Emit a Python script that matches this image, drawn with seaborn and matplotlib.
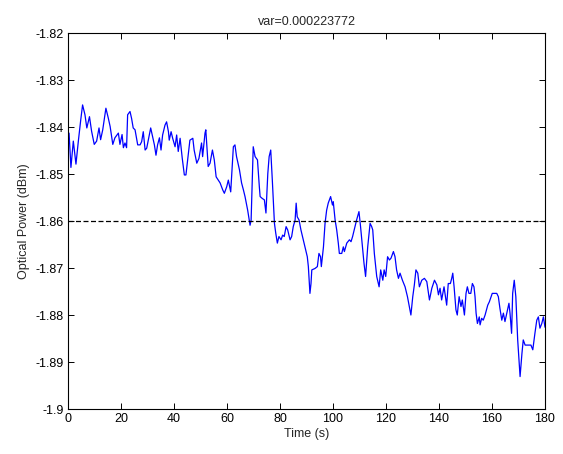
import numpy as np
import pandas as pd
import seaborn as sns
import matplotlib
matplotlib.use("Agg")
import matplotlib.pyplot as plt
from matplotlib.ticker import FormatStrFormatter, FuncFormatter

# values (time in s, power in dBm)
time_s = [
    0.0, 0.4, 1.1, 2.0, 3.0, 3.9, 4.8, 5.5, 6.4, 7.1, 8.1, 8.9, 9.9, 10.8,
    11.7, 12.3, 13.1, 14.3, 15.2, 15.9, 16.9, 17.7, 19.0, 19.6, 20.4, 20.9,
    21.5, 22.1, 22.5, 23.4, 24.0, 24.6, 25.3, 26.3, 27.2, 27.8, 28.4, 29.1,
    29.7, 30.3, 31.2, 31.8, 32.6, 33.2, 33.8, 34.5, 35.1, 35.7, 36.6, 37.2,
    37.9, 38.2, 38.9, 39.5, 40.4, 41.0, 41.6, 42.3, 43.1, 43.9, 44.5, 45.2,
    46.0, 47.1, 47.6, 48.6, 49.4, 50.4, 50.8, 51.7, 52.0, 52.9, 53.6, 54.5,
    55.2, 55.9, 56.7, 57.4, 58.4, 59.0, 59.9, 60.5, 61.4, 62.4, 63.0, 63.6,
    64.7, 65.5, 66.2, 66.8, 67.8, 68.7, 69.1, 69.9, 70.6, 71.5, 72.2, 72.5,
    73.3, 74.1, 74.7, 75.4, 75.9, 76.5, 77.1, 77.9, 78.4, 79.0, 79.6, 80.4,
    81.0, 81.6, 82.3, 82.9, 83.8, 84.4, 85.0, 85.7, 86.1, 86.5, 87.2, 87.9,
    88.8, 89.7, 90.3, 90.7, 91.3, 91.7, 92.0, 93.2, 94.1, 94.7, 95.3, 95.6,
    96.4, 97.0, 97.6, 98.2, 99.1, 99.8, 100.1, 100.8, 101.4, 102.0, 102.4,
    103.3, 103.9, 104.3, 105.2, 106.2, 106.8, 107.4, 108.3, 108.9, 109.8,
    110.4, 111.1, 111.7, 112.3, 113.1, 114.0, 114.6, 115.0, 115.6, 116.5,
    117.4, 118.0, 118.8, 119.3, 119.9, 120.6, 121.3, 121.9, 122.8, 123.4,
    124.0, 124.7, 125.3, 126.2, 127.2, 128.1, 128.8, 129.4, 130.1, 130.7,
    131.3, 132.0, 132.6, 133.5, 134.5, 135.4, 136.4, 137.3, 138.3, 139.2,
    139.8, 140.4, 141.0, 141.9, 142.9, 143.5, 144.3, 144.8, 145.2, 145.7,
    146.4, 146.9, 147.6, 148.3, 148.8, 149.6, 150.2, 150.7, 151.3, 152.0,
    152.6, 153.2, 153.6, 154.0, 154.5, 155.2, 155.5, 156.1, 156.7, 157.4,
    158.4, 159.0, 160.1, 160.9, 161.8, 162.4, 163.0, 163.7, 164.3, 164.9,
    165.6, 166.4, 166.8, 167.4, 167.8, 168.4, 169.0, 169.7, 170.3, 170.6,
    171.0, 171.3, 171.8, 172.5, 173.7, 174.7, 175.4, 176.2, 176.9, 177.5,
    178.1, 178.8, 179.4, 180.0,
]
power_dbm = [
    -1.8425, -1.8413, -1.8486, -1.8430, -1.8479, -1.8430, -1.8385, -1.8353,
    -1.8374, -1.8402, -1.8378, -1.8409, -1.8437, -1.8430, -1.8402, -1.8427,
    -1.8406, -1.8360, -1.8381, -1.8399, -1.8437, -1.8423, -1.8413, -1.8437,
    -1.8416, -1.8444, -1.8434, -1.8444, -1.8374, -1.8367, -1.8382, -1.8402,
    -1.8406, -1.8438, -1.8438, -1.8431, -1.8410, -1.8449, -1.8445, -1.8428,
    -1.8402, -1.8417, -1.8438, -1.8460, -1.8438, -1.8423, -1.8449, -1.8417,
    -1.8396, -1.8389, -1.8410, -1.8428, -1.8410, -1.8424, -1.8442, -1.8417,
    -1.8452, -1.8424, -1.8466, -1.8502, -1.8502, -1.8467, -1.8428, -1.8424,
    -1.8449, -1.8477, -1.8467, -1.8434, -1.8463, -1.8413, -1.8406, -1.8484,
    -1.8477, -1.8449, -1.8470, -1.8506, -1.8513, -1.8519, -1.8534, -1.8541,
    -1.8527, -1.8513, -1.8538, -1.8442, -1.8438, -1.8463, -1.8491, -1.8519,
    -1.8534, -1.8548, -1.8577, -1.8609, -1.8598, -1.8442, -1.8463, -1.8470,
    -1.8527, -1.8548, -1.8552, -1.8555, -1.8583, -1.8499, -1.8463, -1.8449,
    -1.8513, -1.8605, -1.8626, -1.8647, -1.8633, -1.8640, -1.8630, -1.8633,
    -1.8612, -1.8619, -1.8640, -1.8633, -1.8612, -1.8598, -1.8562, -1.8591,
    -1.8598, -1.8619, -1.8640, -1.8662, -1.8676, -1.8697, -1.8754, -1.8733,
    -1.8704, -1.8701, -1.8697, -1.8669, -1.8676, -1.8697, -1.8655, -1.8605,
    -1.8577, -1.8562, -1.8548, -1.8566, -1.8559, -1.8598, -1.8619, -1.8647,
    -1.8669, -1.8669, -1.8655, -1.8665, -1.8647, -1.8640, -1.8644, -1.8633,
    -1.8612, -1.8598, -1.8580, -1.8612, -1.8655, -1.8690, -1.8718, -1.8655,
    -1.8605, -1.8612, -1.8619, -1.8669, -1.8718, -1.8740, -1.8704, -1.8726,
    -1.8704, -1.8718, -1.8676, -1.8683, -1.8679, -1.8665, -1.8676, -1.8704,
    -1.8722, -1.8711, -1.8726, -1.8740, -1.8761, -1.8782, -1.8800, -1.8761,
    -1.8736, -1.8704, -1.8711, -1.8740, -1.8726, -1.8722, -1.8729, -1.8768,
    -1.8743, -1.8726, -1.8736, -1.8757, -1.8743, -1.8768, -1.8740, -1.8779,
    -1.8733, -1.8733, -1.8722, -1.8711, -1.8740, -1.8789, -1.8800, -1.8761,
    -1.8782, -1.8768, -1.8800, -1.8754, -1.8740, -1.8754, -1.8754, -1.8733,
    -1.8740, -1.8761, -1.8796, -1.8818, -1.8804, -1.8821, -1.8807, -1.8811,
    -1.8800, -1.8779, -1.8772, -1.8754, -1.8754, -1.8754, -1.8761, -1.8786,
    -1.8811, -1.8796, -1.8814, -1.8796, -1.8775, -1.8796, -1.8839, -1.8754,
    -1.8726, -1.8761, -1.8853, -1.8903, -1.8931, -1.8903, -1.8882, -1.8853,
    -1.8864, -1.8864, -1.8864, -1.8874, -1.8839, -1.8811, -1.8804, -1.8828,
    -1.8818, -1.8804, -1.8826,
]
mean_level = -1.86
title_text = "var=0.000223772"
x_ticks = [0, 20, 40, 60, 80, 100, 120, 140, 160, 180]
y_ticks = [-1.9, -1.89, -1.88, -1.87, -1.86, -1.85, -1.84, -1.83, -1.82]

df = pd.DataFrame({"t": time_s, "p": power_dbm})

sns.set_style("ticks")
plt.rcParams["font.family"] = ["Liberation Sans", "DejaVu Sans"]
plt.rcParams["xtick.direction"] = "in"
plt.rcParams["ytick.direction"] = "in"

fig = plt.figure(figsize=(5.63, 4.54), dpi=100)
ax = fig.add_axes([0.1208, 0.0991, 0.8472, 0.8282])

sns.lineplot(data=df, x="t", y="p", ax=ax, color="#0000ff", linewidth=0.9,
             estimator=None, sort=False)
ax.axhline(mean_level, color="black", linestyle=(0, (4, 2)), linewidth=0.9)

ax.set_xlim(0, 180)
ax.set_ylim(-1.9, -1.82)
ax.set_xticks(x_ticks)
ax.set_yticks(y_ticks)
ax.yaxis.set_major_formatter(FuncFormatter(lambda v, _: "%g" % round(v, 4)))
ax.tick_params(top=True, right=True, labelsize=9, length=4, width=0.7,
               colors="black", pad=3)
for s in ax.spines.values():
    s.set_linewidth(0.8)
    s.set_color("black")

ax.set_xlabel("Time (s)", fontsize=9, labelpad=2)
ax.set_ylabel("Optical Power (dBm)", fontsize=9, labelpad=4)
ax.set_title(title_text, fontsize=9, pad=6)

fig.savefig("out.png", dpi=100)
